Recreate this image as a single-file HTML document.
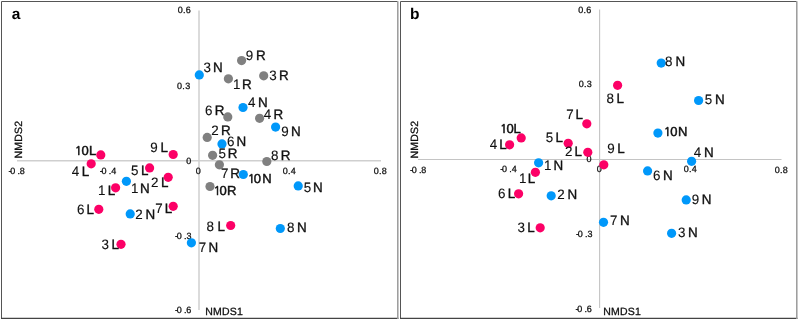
<!DOCTYPE html>
<html lang="en"><head><meta charset="utf-8"><title>NMDS ordination</title>
<style>
html,body{margin:0;padding:0;background:#fff;}
svg{display:block;text-rendering:geometricPrecision;font-family:"Liberation Sans",Arial,Helvetica,sans-serif;}
.lb{font-size:13.4px;fill:#111;stroke:#111;stroke-width:.12px;}
.lb tspan,.lb .b{stroke:#111;stroke-width:.36px;}
.lb.t{font-size:13px;}
.lb.t .b,.lb.t tspan{stroke-width:.45px;}
.lb.t .n1{font-family:NanumGothic,"Liberation Sans",sans-serif;font-size:12px;stroke-width:.6px;}
.ax{font-size:9px;fill:#111;letter-spacing:0.3px;stroke:#111;stroke-width:.28px;}
.nm{font-size:10.5px;fill:#111;stroke:#111;stroke-width:.3px;letter-spacing:.22px;}
.pl{font-size:15.5px;font-weight:bold;fill:#000;}
</style></head><body>
<svg width="799" height="320" viewBox="0 0 799 320">
<rect width="799" height="320" fill="#fff"/>
<g fill="none">
<path d="M1.5 318.3V1.5H397.6" stroke="#555" stroke-width="1"/>
<path d="M1 318.3H398.4" stroke="#444" stroke-width="1.3"/>
<path d="M397.8 1.2V318.9" stroke="#9a9a9a" stroke-width="1.5"/>
<path d="M400.5 318.3V1.5H796.6" stroke="#555" stroke-width="1"/>
<path d="M400 318.3H797.4" stroke="#444" stroke-width="1.3"/>
<path d="M796.8 1.2V318.9" stroke="#9a9a9a" stroke-width="1.5"/>
</g>
<g stroke="#cfcfcf" fill="none">
<path d="M199 10.5V310" stroke-width="1.5"/>
<path d="M17 160.75H381" stroke-width="1.5"/>
<path d="M599.6 9.5V308" stroke-width="1.1" stroke="#c4c4c4"/>
<path d="M418 159.5H781.5" stroke-width="1.1" stroke="#c4c4c4"/>
</g>
<g class="ax">
<text x="177.65" y="13.30">0.6</text>
<text x="177.05" y="88.60">0.3</text>
<text x="186.15" y="163.80">0</text>
<text x="175.10 176.85 184.08 186.41" y="238.80">-0.3</text>
<text x="175.10 176.85 184.08 186.29" y="313.30">-0.6</text>
<text x="8.60 10.35 17.58 19.86" y="173.80">-0.8</text>
<text x="99.70 101.45 108.68 111.14" y="173.80">-0.4</text>
<text x="195.85" y="173.80">0</text>
<text x="282.65" y="173.80">0.4</text>
<text x="373.65" y="173.80">0.8</text>
<text x="578.15" y="12.60">0.6</text>
<text x="578.65" y="87.40">0.3</text>
<text x="586.45" y="162.20">0</text>
<text x="576.10 577.85 585.08 587.41" y="237.20">-0.3</text>
<text x="575.60 577.35 584.58 586.79" y="311.80">-0.6</text>
<text x="409.90 411.65 418.88 421.16" y="172.50">-0.8</text>
<text x="500.30 502.05 509.28 511.74" y="172.40">-0.4</text>
<text x="596.65" y="172.40">0</text>
<text x="683.65" y="172.40">0.4</text>
<text x="774.65" y="172.60">0.8</text>
</g>
<g class="nm">
<text x="205.14" y="314.5">NMDS1</text>
<text x="603.14" y="314.8">NMDS1</text>
<text transform="translate(21.7 158.46) rotate(-90)">NMDS2</text>
<text transform="translate(417.9 158.46) rotate(-90)">NMDS2</text>
</g>
<text class="pl" x="11.8" y="19.1">a</text>
<text class="pl" x="410" y="19">b</text>
<circle cx="199.3" cy="74.9" r="4.6" fill="#0098fa"/>
<circle cx="241.6" cy="60.6" r="4.6" fill="#808080"/>
<circle cx="228.4" cy="78.8" r="4.6" fill="#808080"/>
<circle cx="263.7" cy="75.8" r="4.6" fill="#808080"/>
<circle cx="243.0" cy="107.5" r="4.6" fill="#0098fa"/>
<circle cx="227.8" cy="116.9" r="4.6" fill="#808080"/>
<circle cx="259.6" cy="118.3" r="4.6" fill="#808080"/>
<circle cx="275.6" cy="127.1" r="4.6" fill="#0098fa"/>
<circle cx="207.2" cy="137.4" r="4.6" fill="#808080"/>
<circle cx="222.0" cy="143.9" r="4.6" fill="#0098fa"/>
<circle cx="212.6" cy="155.3" r="4.6" fill="#808080"/>
<circle cx="219.4" cy="164.8" r="4.6" fill="#808080"/>
<circle cx="266.8" cy="161.5" r="4.6" fill="#808080"/>
<circle cx="243.3" cy="174.5" r="4.6" fill="#0098fa"/>
<circle cx="298.2" cy="185.9" r="4.6" fill="#0098fa"/>
<circle cx="210.0" cy="186.5" r="4.6" fill="#808080"/>
<circle cx="230.7" cy="225.5" r="4.6" fill="#fc0066"/>
<circle cx="280.3" cy="228.5" r="4.6" fill="#0098fa"/>
<circle cx="191.4" cy="242.8" r="4.6" fill="#0098fa"/>
<circle cx="100.8" cy="154.9" r="4.6" fill="#fc0066"/>
<circle cx="91.2" cy="163.8" r="4.6" fill="#fc0066"/>
<circle cx="173.2" cy="154.5" r="4.6" fill="#fc0066"/>
<circle cx="149.6" cy="167.9" r="4.6" fill="#fc0066"/>
<circle cx="168.2" cy="177.3" r="4.6" fill="#fc0066"/>
<circle cx="126.4" cy="181.3" r="4.6" fill="#0098fa"/>
<circle cx="115.6" cy="187.8" r="4.6" fill="#fc0066"/>
<circle cx="98.8" cy="209.3" r="4.6" fill="#fc0066"/>
<circle cx="130.2" cy="213.9" r="4.6" fill="#0098fa"/>
<circle cx="173.2" cy="206.3" r="4.6" fill="#fc0066"/>
<circle cx="121.0" cy="244.3" r="4.6" fill="#fc0066"/>
<circle cx="661.2" cy="63.1" r="4.6" fill="#0098fa"/>
<circle cx="617.6" cy="85.3" r="4.6" fill="#fc0066"/>
<circle cx="698.6" cy="100.5" r="4.6" fill="#0098fa"/>
<circle cx="657.9" cy="133.1" r="4.6" fill="#0098fa"/>
<circle cx="586.8" cy="123.8" r="4.6" fill="#fc0066"/>
<circle cx="521.2" cy="137.9" r="4.6" fill="#fc0066"/>
<circle cx="509.6" cy="144.8" r="4.6" fill="#fc0066"/>
<circle cx="568.2" cy="143.3" r="4.6" fill="#fc0066"/>
<circle cx="587.8" cy="152.3" r="4.6" fill="#fc0066"/>
<circle cx="603.8" cy="164.8" r="4.6" fill="#fc0066"/>
<circle cx="538.6" cy="162.8" r="4.6" fill="#0098fa"/>
<circle cx="535.4" cy="172.3" r="4.6" fill="#fc0066"/>
<circle cx="518.6" cy="193.8" r="4.6" fill="#fc0066"/>
<circle cx="551.2" cy="195.8" r="4.6" fill="#0098fa"/>
<circle cx="691.6" cy="161.3" r="4.6" fill="#0098fa"/>
<circle cx="647.6" cy="170.9" r="4.6" fill="#0098fa"/>
<circle cx="686.2" cy="199.9" r="4.6" fill="#0098fa"/>
<circle cx="603.5" cy="222.3" r="4.6" fill="#0098fa"/>
<circle cx="671.6" cy="233.3" r="4.6" fill="#0098fa"/>
<circle cx="540.2" cy="227.8" r="4.6" fill="#fc0066"/>
<g class="lb" transform="scale(1 1.02)">
<text x="203.49" y="70.59">3 <tspan x="213.00">N</tspan></text>
<text x="245.77" y="58.43">9 <tspan x="256.10">R</tspan></text>
<text x="232.98" y="86.86">1 <tspan x="242.00">R</tspan></text>
<text x="269.29" y="78.04">3 <tspan x="279.10">R</tspan></text>
<text x="248.09" y="105.29">4 <tspan x="258.00">N</tspan></text>
<text x="204.92" y="112.75">6 <tspan x="214.70">R</tspan></text>
<text x="263.69" y="116.67">4 <tspan x="273.60">R</tspan></text>
<text x="281.37" y="132.94">9 <tspan x="291.00">N</tspan></text>
<text x="211.33" y="132.16">2 <tspan x="220.90">R</tspan></text>
<text x="226.92" y="143.14">6 <tspan x="236.50">N</tspan></text>
<text x="218.46" y="154.90">5 <tspan x="227.70">R</tspan></text>
<text x="220.91" y="174.51">7 <tspan x="230.20">R</tspan></text>
<text x="271.02" y="156.86">8 <tspan x="280.70">R</tspan></text>
<text x="303.86" y="187.84">5 <tspan x="313.00">N</tspan></text>
<text x="206.62" y="226.08">8 <tspan x="217.45">L</tspan></text>
<text x="286.92" y="227.84">8 <tspan x="297.00">N</tspan></text>
<text x="198.71" y="246.67">7 <tspan x="208.40">N</tspan></text>
<text x="71.69" y="173.04">4 <tspan x="81.85">L</tspan></text>
<text x="150.37" y="149.02">9 <tspan x="160.45">L</tspan></text>
<text x="131.06" y="171.57">5 <tspan x="141.05">L</tspan></text>
<text x="150.93" y="183.73">2 <tspan x="161.05">L</tspan></text>
<text x="130.98" y="189.61">1 <tspan x="140.00">N</tspan></text>
<text x="97.98" y="191.37">1 <tspan x="107.75">L</tspan></text>
<text x="76.92" y="209.80">6 <tspan x="86.45">L</tspan></text>
<text x="135.33" y="214.71">2 <tspan x="145.40">N</tspan></text>
<text x="155.31" y="209.22">7 <tspan x="164.75">L</tspan></text>
<text x="101.49" y="244.22">3 <tspan x="111.45">L</tspan></text>
<text x="665.02" y="65.10">8 <tspan x="675.40">N</tspan></text>
<text x="606.42" y="100.59">8 <tspan x="616.55">L</tspan></text>
<text x="704.86" y="101.96">5 <tspan x="715.00">N</tspan></text>
<text x="566.31" y="117.06">7 <tspan x="575.55">L</tspan></text>
<text x="489.69" y="146.47">4 <tspan x="499.15">L</tspan></text>
<text x="545.86" y="139.61">5 <tspan x="555.55">L</tspan></text>
<text x="564.93" y="153.33">2 <tspan x="574.55">L</tspan></text>
<text x="607.37" y="149.80">9 <tspan x="617.15">L</tspan></text>
<text x="543.98" y="166.67">1 <tspan x="553.40">N</tspan></text>
<text x="518.98" y="179.80">1 <tspan x="527.75">L</tspan></text>
<text x="497.92" y="194.12">6 <tspan x="507.75">L</tspan></text>
<text x="557.33" y="195.49">2 <tspan x="567.40">N</tspan></text>
<text x="693.69" y="153.53">4 <tspan x="704.00">N</tspan></text>
<text x="652.92" y="176.47">6 <tspan x="663.00">N</tspan></text>
<text x="691.77" y="200.39">9 <tspan x="701.80">N</tspan></text>
<text x="609.91" y="220.59">7 <tspan x="620.00">N</tspan></text>
<text x="678.09" y="232.75">3 <tspan x="688.00">N</tspan></text>
<text x="517.49" y="227.84">3 <tspan x="527.15">L</tspan></text>
</g>
<g class="lb t">
<text class="b" y="183.00"><tspan class="n1" x="247.70">1</tspan><tspan x="253.69">0</tspan><tspan x="262.13">N</tspan></text>
<text class="b" y="195.10"><tspan class="n1" x="213.60">1</tspan><tspan x="219.59">0</tspan><tspan x="227.03">R</tspan></text>
<text class="b" y="154.55"><tspan class="n1" x="74.85">1</tspan><tspan x="81.59">0</tspan><tspan x="88.88">L</tspan></text>
<text class="b" y="136.25"><tspan class="n1" x="663.85">1</tspan><tspan x="670.19">0</tspan><tspan x="677.98">N</tspan></text>
<text class="b" y="133.35"><tspan class="n1" x="500.10">1</tspan><tspan x="506.49">0</tspan><tspan x="513.38">L</tspan></text>
</g>
</svg></body></html>
